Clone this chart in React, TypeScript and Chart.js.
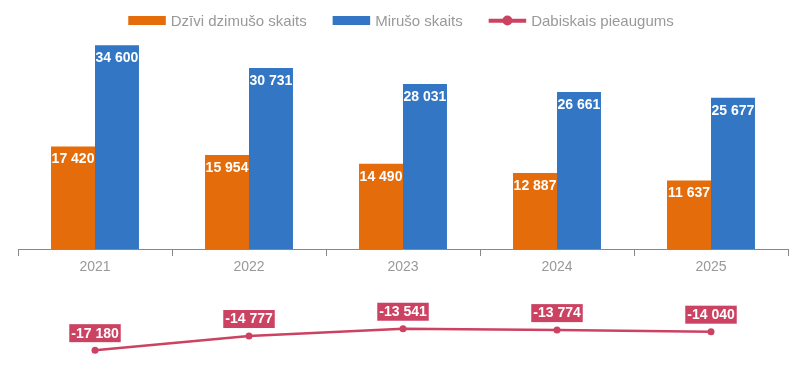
import React, { useEffect, useRef } from 'react';
import { Chart, registerables } from 'chart.js';

Chart.register(...registerables);

const categories = ['2021', '2022', '2023', '2024', '2025'];
const births = [17420, 15954, 14490, 12887, 11637];
const deaths = [34600, 30731, 28031, 26661, 25677];
const naturalChange = [-17180, -14777, -13541, -13774, -14040];
const seriesNames = ['Dzīvi dzimušo skaits', 'Mirušo skaits', 'Dabiskais pieaugums'];
const seriesColors = ['#E46C0A', '#3276C4', '#CC4262'];
const yMin = -18000;
const yMax = 36000;

const W = 802;
const H = 368;
const TEXT_GREY = '#999999';

function fmt(v: number): string {
  const s = String(Math.abs(Math.round(v))).replace(/\B(?=(\d{3})+(?!\d))/g, ' ');
  return (v < 0 ? '-' : '') + s;
}

const BOX_W = 37.5;
const BOX_GAP = 5;
const ITEM_GAP = 26;

const legendPlugin = {
  id: 'customLegend',
  afterDraw(chart: any) {
    const ctx = chart.ctx;
    ctx.save();
    ctx.font = '15px "Liberation Sans", Arial, sans-serif';
    const items = chart.data.datasets.map((ds: any) => ({
      ds,
      tw: ctx.measureText(ds.label).width,
    }));
    let total = 0;
    items.forEach((it: any, i: number) => {
      total += BOX_W + BOX_GAP + it.tw + (i < items.length - 1 ? ITEM_GAP : 0);
    });
    let x = (chart.width - total) / 2;
    const cy = 20.5;
    items.forEach((it: any) => {
      const ds = it.ds;
      const c = ds.type === 'line' ? ds.borderColor : ds.backgroundColor;
      if (ds.type === 'line') {
        ctx.strokeStyle = c;
        ctx.lineWidth = 4;
        ctx.beginPath();
        ctx.moveTo(x, cy + 0.2);
        ctx.lineTo(x + BOX_W, cy + 0.2);
        ctx.stroke();
        ctx.fillStyle = c;
        ctx.beginPath();
        ctx.arc(x + BOX_W / 2, cy, 5, 0, Math.PI * 2);
        ctx.fill();
      } else {
        ctx.fillStyle = c;
        ctx.fillRect(x, cy - 4.5, BOX_W, 9);
      }
      x += BOX_W + BOX_GAP;
      ctx.fillStyle = TEXT_GREY;
      ctx.textAlign = 'left';
      ctx.textBaseline = 'alphabetic';
      ctx.fillText(ds.label, x, 25.5);
      x += it.tw + ITEM_GAP;
    });
    ctx.restore();
  },
};

const labelsPlugin = {
  id: 'valueLabels',
  afterDatasetsDraw(chart: any) {
    const ctx = chart.ctx;
    ctx.save();
    ctx.font = 'bold 14px "Liberation Sans", Arial, sans-serif';
    ctx.textAlign = 'center';
    ctx.textBaseline = 'middle';
    chart.data.datasets.forEach((ds: any, di: number) => {
      const meta = chart.getDatasetMeta(di);
      meta.data.forEach((el: any, i: number) => {
        const v = ds.data[i];
        const txt = fmt(v);
        if (ds.type === 'line') {
          const tw = ctx.measureText(txt).width;
          const rw = tw + 4;
          const rh = 18;
          const bottom = el.y - 8;
          ctx.fillStyle = ds.borderColor;
          ctx.fillRect(el.x - rw / 2, bottom - rh, rw, rh);
          ctx.fillStyle = '#ffffff';
          ctx.fillText(txt, el.x, bottom - rh / 2 + 0.5);
        } else {
          ctx.fillStyle = '#ffffff';
          ctx.fillText(txt, el.x, el.y + 13);
        }
      });
    });
    ctx.restore();
  },
};

export default function App() {
  const ref = useRef<HTMLCanvasElement | null>(null);

  useEffect(() => {
    if (!ref.current) return;
    const chart = new Chart(ref.current, {
      type: 'bar',
      data: {
        labels: categories,
        datasets: [
          {
            type: 'bar',
            label: seriesNames[0],
            data: births,
            backgroundColor: seriesColors[0],
            categoryPercentage: 0.571,
            barPercentage: 1.0,
          } as any,
          {
            type: 'bar',
            label: seriesNames[1],
            data: deaths,
            backgroundColor: seriesColors[1],
            categoryPercentage: 0.571,
            barPercentage: 1.0,
          } as any,
          {
            type: 'line',
            label: seriesNames[2],
            data: naturalChange,
            borderColor: seriesColors[2],
            backgroundColor: seriesColors[2],
            borderWidth: 2.5,
            pointRadius: 3.5,
            pointBackgroundColor: seriesColors[2],
            pointBorderWidth: 0,
            tension: 0,
            fill: false,
          } as any,
        ],
      },
      options: {
        responsive: false,
        maintainAspectRatio: false,
        animation: false,
        devicePixelRatio: 1,
        layout: { padding: { top: 37, bottom: 13, left: 18, right: 14 } },
        plugins: {
          legend: { display: false },
          tooltip: { enabled: false },
          title: { display: false },
        },
        scales: {
          x: {
            position: { y: 0 } as any,
            offset: true,
            grid: {
              display: true,
              offset: true,
              drawOnChartArea: false,
              drawTicks: true,
              tickLength: 6,
              color: '#888888',
              lineWidth: 1,
            },
            border: { display: true, color: '#888888', width: 1 },
            ticks: {
              color: TEXT_GREY,
              font: { size: 14, family: '"Liberation Sans", Arial, sans-serif' },
              padding: 4,
            },
          },
          y: {
            display: false,
            min: yMin,
            max: yMax,
          },
        },
      },
      plugins: [labelsPlugin, legendPlugin],
    });
    return () => chart.destroy();
  }, []);

  return (
    <div style={{ position: 'absolute', left: 0, top: 0, width: W, height: H, background: '#ffffff' }}>
      <canvas ref={ref} width={W} height={H} style={{ display: 'block', width: W, height: H }} />
    </div>
  );
}
